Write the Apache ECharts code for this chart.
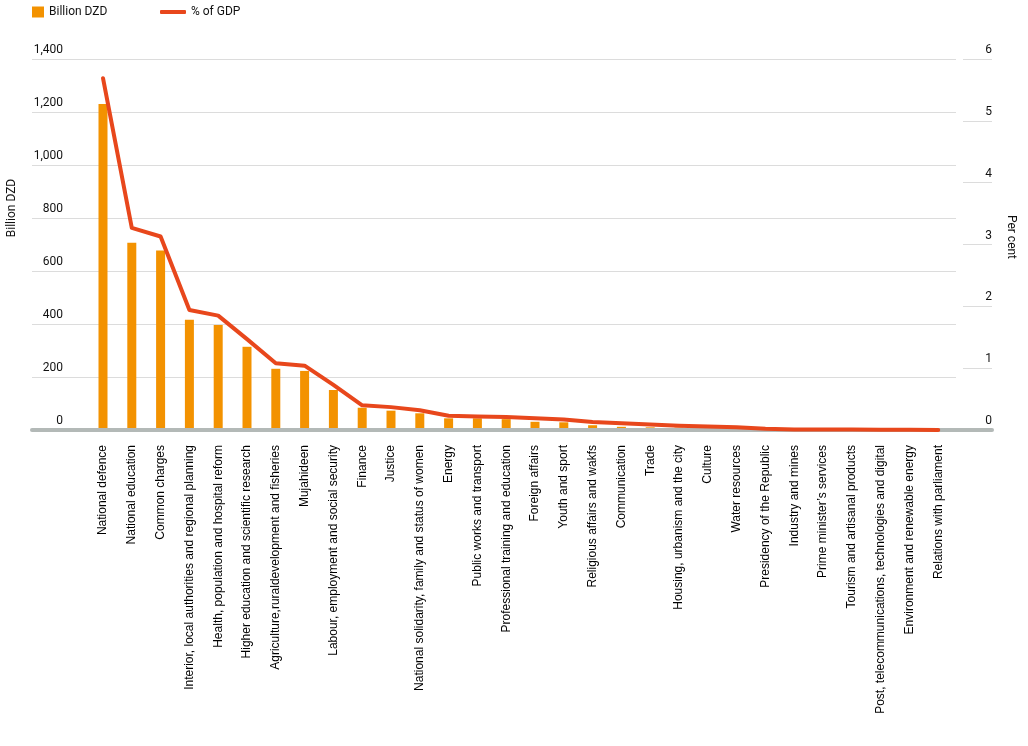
<!DOCTYPE html>
<html>
<head>
<meta charset="utf-8">
<script src="https://cdn.jsdelivr.net/npm/echarts@6/dist/echarts.min.js"></script>
<style>html,body{margin:0;padding:0;background:#fff;}#chart{width:1028px;height:746px;}</style>
</head>
<body>
<div id="chart"></div>
<script>
const categories = [
  'National defence','National education','Common charges',
  'Interior, local authorities and regional planning','Health, population and hospital reform',
  'Higher education and scientific research','Agriculture,ruraldevelopment and fisheries','Mujahideen',
  'Labour, employment and social security','Finance','Justice',
  'National solidarity, family and status of women','Energy','Public works and transport',
  'Professional training and education','Foreign affairs','Youth and sport','Religious affairs and wakfs',
  'Communication','Trade','Housing, urbanism and the city','Culture','Water resources',
  'Presidency of the Republic','Industry and mines','Prime minister\u2019s services',
  'Tourism and artisanal products','Post, telecommunications, technologies and digital',
  'Environment and renewable energy','Relations with parliament'
];
const billionDZD = [1230, 707, 677, 416, 396, 314, 231, 223, 151, 84, 73, 63, 44, 44, 41, 31, 29, 18, 12, 10, 9, 6, 5, 3, 2, 2, 1.5, 1, 1, 0.5];
const pctGDP = [5.69, 3.27, 3.13, 1.94, 1.85, 1.47, 1.08, 1.04, 0.73, 0.40, 0.37, 0.32, 0.23, 0.22, 0.21, 0.19, 0.17, 0.13, 0.11, 0.09, 0.07, 0.055, 0.045, 0.02, 0.01, 0.01, 0.01, 0.005, 0.005, 0.002];
const leftTickLabels = ['0','200','400','600','800','1,000','1,200','1,400'];
const rightTickLabels = ['0','1','2','3','4','5','6'];
const seriesNames = ['Billion DZD', '% of GDP'];
const axisNames = ['Billion DZD', 'Per cent'];

const tickFont = 'Roboto';
const catFont = 'Liberation Sans';
const chart = echarts.init(document.getElementById('chart'), null, {renderer: 'canvas'});

chart.setOption({
  animation: false,
  backgroundColor: '#fff',
  legend: [
    {left: 32, top: 6, padding: 0, itemWidth: 12, itemHeight: 11, data: [{name: seriesNames[0], icon: 'rect'}],
     textStyle: {fontFamily: tickFont, fontSize: 12, color: '#111'}},
    {left: 160, top: 6, padding: 0, itemWidth: 26, itemHeight: 4, data: [{name: seriesNames[1], icon: 'roundRect'}],
     textStyle: {fontFamily: tickFont, fontSize: 12, color: '#111'}}
  ],
  grid: [
    {left: 32, top: 59, width: 924, height: 371},
    {left: 88.6, top: 59, width: 864, height: 371},
    {left: 32, top: 59, width: 960, height: 371}
  ],
  xAxis: [
    {gridIndex: 0, type: 'value', show: false, min: 0, max: 1},
    {gridIndex: 1, type: 'category', data: categories,
     axisLine: {show: false}, axisTick: {show: false},
     axisLabel: {rotate: 90, interval: 0, margin: 15, fontFamily: catFont, fontSize: 12, color: '#000'}},
    {gridIndex: 2, type: 'value', min: 0, max: 1, z: 3,
     axisLine: {show: true, lineStyle: {color: '#b3b9b7', width: 4}},
     axisTick: {show: false}, axisLabel: {show: false}, splitLine: {show: false}}
  ],
  yAxis: [
    {gridIndex: 0, type: 'value', min: 0, max: 1400, interval: 200,
     axisLine: {show: false}, axisTick: {show: false},
     splitLine: {lineStyle: {color: '#dcdcdc', width: 1}},
     axisLabel: {inside: true, align: 'right', verticalAlign: 'bottom', margin: 31, padding: [0, 0, 3, 0],
                 fontFamily: tickFont, fontSize: 12, color: '#111',
                 formatter: (v) => leftTickLabels[Math.round(v / 200)]}},
    {gridIndex: 1, type: 'value', min: 0, max: 1400, show: false},
    {gridIndex: 1, type: 'value', position: 'right', min: 0, max: 6, interval: 1, offset: 10.4,
     axisLine: {show: false},
     axisTick: {show: true, length: 29, lineStyle: {color: '#dcdcdc', width: 1}},
     splitLine: {show: false},
     axisLabel: {align: 'right', verticalAlign: 'bottom', margin: 29, padding: [0, 0, 3, 0],
                 fontFamily: tickFont, fontSize: 12, color: '#111',
                 formatter: (v) => rightTickLabels[Math.round(v)]}},
    {gridIndex: 2, type: 'value', min: 0, max: 1, show: false}
  ],
  graphic: [
    {type: 'text', x: 12, y: 208, rotation: Math.PI / 2,
     style: {text: axisNames[0], fontFamily: tickFont, fontSize: 12, fill: '#111',
             align: 'center', verticalAlign: 'middle', textAlign: 'center', textVerticalAlign: 'middle'}},
    {type: 'text', x: 1011, y: 237, rotation: -Math.PI / 2,
     style: {text: axisNames[1], fontFamily: tickFont, fontSize: 12, fill: '#111',
             align: 'center', verticalAlign: 'middle', textAlign: 'center', textVerticalAlign: 'middle'}}
  ],
  series: [
    {name: seriesNames[0], type: 'bar', xAxisIndex: 1, yAxisIndex: 1, data: billionDZD,
     barWidth: 9, itemStyle: {color: '#f39200'}, z: 2},
    {name: seriesNames[1], type: 'line', xAxisIndex: 1, yAxisIndex: 2, data: pctGDP,
     symbol: 'none', lineStyle: {color: '#e8471c', width: 4, cap: 'round', join: 'round'},
     itemStyle: {color: '#e8471c'}, z: 5}
  ]
});
</script>
</body>
</html>
